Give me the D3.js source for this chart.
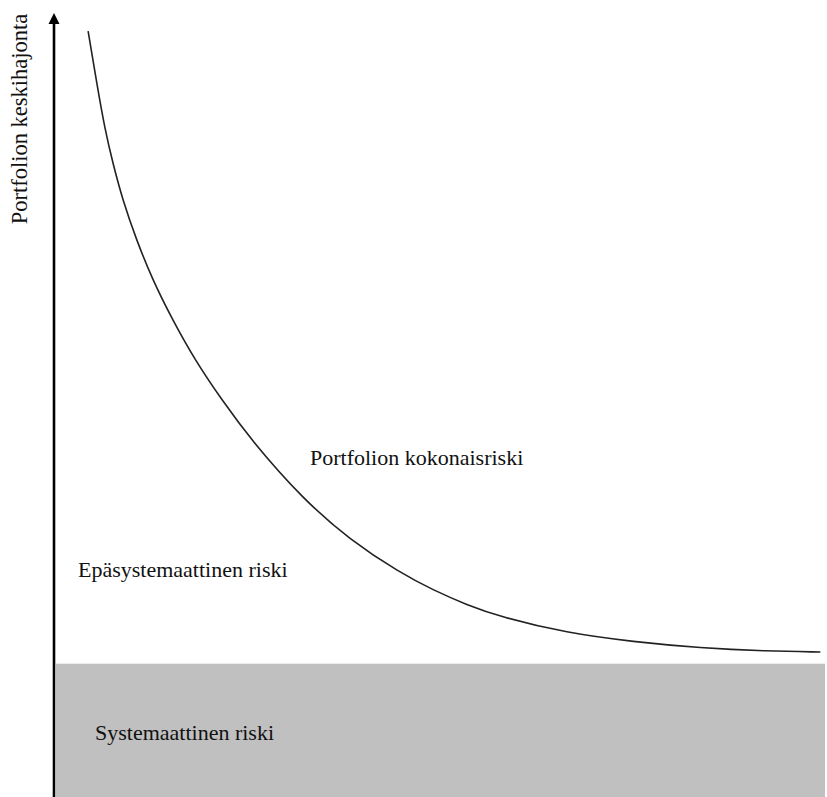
<html>
<head>
  <meta charset="utf-8">
  <script src="https://d3js.org/d3.v7.min.js"></script>
  <style>
    body { margin: 0; background: white; }
    text { font-family: "Liberation Serif", "Times New Roman", serif; fill: #111; }
  </style>
</head>
<body>
<svg id="chart" width="827" height="797"></svg>
<script>
// diversification curve (0..100 both ways)
var curveX = [4.3, 5.5, 6.5, 7.5, 8.8, 10.6, 12.7, 15.3, 18.2, 21.7, 25.5, 32.2, 38.3, 44.8, 49.1, 53.5, 57.8, 66.5, 75.1, 83.8, 92.5, 99.4];
var curveY = [97.7, 90.6, 85.1, 80.9, 76.1, 71.0, 65.9, 60.8, 55.7, 50.6, 45.5, 38.0, 32.8, 28.6, 26.4, 24.5, 23.0, 20.9, 19.8, 19.0, 18.6, 18.5];
var systematicLevel = 17;
var yLabel = "Portfolion keskihajonta";
var labels = ["Portfolion kokonaisriski", "Epäsystemaattinen riski", "Systemaattinen riski"];

var svg = d3.select("#chart");
var x = d3.scaleLinear().domain([0, 100]).range([55, 825]);
var y = d3.scaleLinear().domain([0, 100]).range([797, 13]);

// systematic risk band
svg.append("rect")
    .attr("x", x(0) + 1).attr("y", y(systematicLevel))
    .attr("width", x(100) - x(0) - 1).attr("height", y(0) - y(systematicLevel))
    .attr("fill", "#c0c0c0");

// total risk curve
var pts = d3.zip(curveX, curveY);
svg.append("path").datum(pts)
    .attr("d", d3.line().x(d => x(d[0])).y(d => y(d[1])).curve(d3.curveBasis))
    .attr("fill", "none").attr("stroke", "#222").attr("stroke-width", 1.6);

// y axis with arrow
svg.append("line")
    .attr("x1", x(0) - 1).attr("x2", x(0) - 1)
    .attr("y1", y(0)).attr("y2", y(100) + 8)
    .attr("stroke", "#000").attr("stroke-width", 2.6);
svg.append("path")
    .attr("d", "M" + (x(0) - 1) + "," + y(100) + " l-5.5,11 h11 z")
    .attr("fill", "#000");

svg.append("text")
    .attr("transform", "translate(27,119) rotate(-90)")
    .attr("text-anchor", "middle").attr("font-size", 22.5)
    .text(yLabel);

svg.append("text").attr("x", 310).attr("y", 465).attr("font-size", 22).text(labels[0]);
svg.append("text").attr("x", 78).attr("y", 577).attr("font-size", 22).text(labels[1]);
svg.append("text").attr("x", 95).attr("y", 740).attr("font-size", 22).text(labels[2]);
</script>
</body>
</html>
